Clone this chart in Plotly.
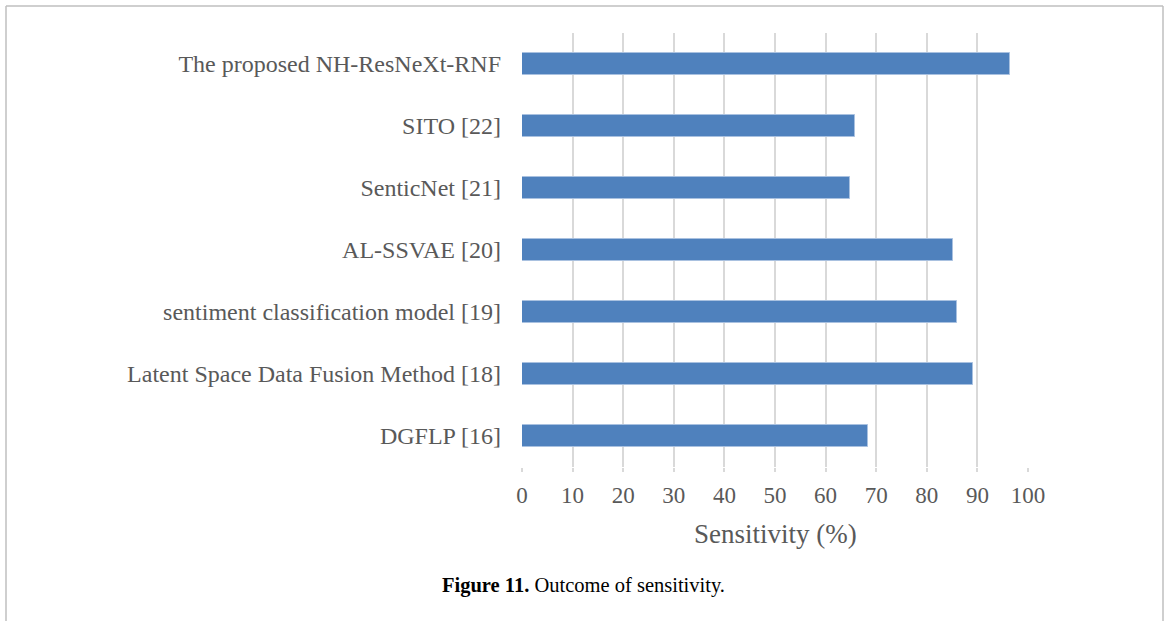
import plotly.graph_objects as go

categories = [
    "DGFLP [16]",
    "Latent Space Data Fusion Method [18]",
    "sentiment classification model [19]",
    "AL-SSVAE [20]",
    "SenticNet [21]",
    "SITO [22]",
    "The proposed NH-ResNeXt-RNF",
]
sensitivity = [68.3, 89.1, 85.9, 85.2, 64.8, 65.9, 96.5]
x_ticks = list(range(0, 101, 10))

W, H = 1170, 621
x0, x1 = 522, 1028
y0, y1 = 33, 467

fig = go.Figure(
    go.Bar(
        y=categories,
        x=sensitivity,
        orientation="h",
        width=0.36,
        marker=dict(color="#4F81BD", line=dict(color="#A9C1E0", width=1)),
    )
)

font_serif = "Liberation Serif, Times New Roman, serif"

fig.update_layout(
    width=W,
    height=H,
    autosize=False,
    margin=dict(l=0, r=0, t=0, b=0),
    paper_bgcolor="white",
    plot_bgcolor="white",
    showlegend=False,
    bargap=0,
    xaxis=dict(
        domain=[x0 / W, x1 / W],
        range=[0, 100],
        tickvals=x_ticks,
        ticktext=[str(v) for v in x_ticks],
        showgrid=True,
        gridcolor="#D9D9D9",
        gridwidth=2,
        zeroline=False,
        showline=False,
        ticks="outside",
        ticklen=4,
        tickwidth=2,
        tickcolor="#D9D9D9",
        ticklabelstandoff=3,
        automargin=False,
        tickfont=dict(family=font_serif, size=23, color="#595959"),
    ),
    yaxis=dict(
        domain=[1 - y1 / H, 1 - y0 / H],
        showgrid=False,
        zeroline=False,
        showline=False,
        ticks="",
        ticklabelstandoff=20,
        automargin=False,
        tickfont=dict(family=font_serif, size=24, color="#595959"),
    ),
    font=dict(family=font_serif),
)

fig.add_annotation(
    x=(x0 + x1) / 2 / W, y=1 - 534 / H, xref="paper", yref="paper",
    text="Sensitivity (%)", showarrow=False,
    font=dict(family=font_serif, size=27, color="#595959"),
    xanchor="center", yanchor="middle",
)
fig.add_annotation(
    x=583 / W, y=1 - 585 / H, xref="paper", yref="paper",
    text="<b>Figure 11.</b> Outcome of sensitivity.", showarrow=False,
    font=dict(family=font_serif, size=20.5, color="#000000"),
    xanchor="center", yanchor="middle",
)
# page frame lines
fig.add_shape(type="line", xref="paper", yref="paper",
              x0=6 / W, x1=1163 / W, y0=1 - 6 / H, y1=1 - 6 / H,
              line=dict(color="#BFBFBF", width=1.5))
fig.add_shape(type="line", xref="paper", yref="paper",
              x0=6 / W, x1=6 / W, y0=0, y1=1 - 6 / H,
              line=dict(color="#BFBFBF", width=1.5))
fig.add_shape(type="line", xref="paper", yref="paper",
              x0=1163 / W, x1=1163 / W, y0=0, y1=1 - 6 / H,
              line=dict(color="#BFBFBF", width=1.5))

fig.write_html(
    "out.html",
    config={"responsive": False, "displayModeBar": False},
    post_script="document.body.style.margin='0px';document.body.style.overflow='hidden';",
)
